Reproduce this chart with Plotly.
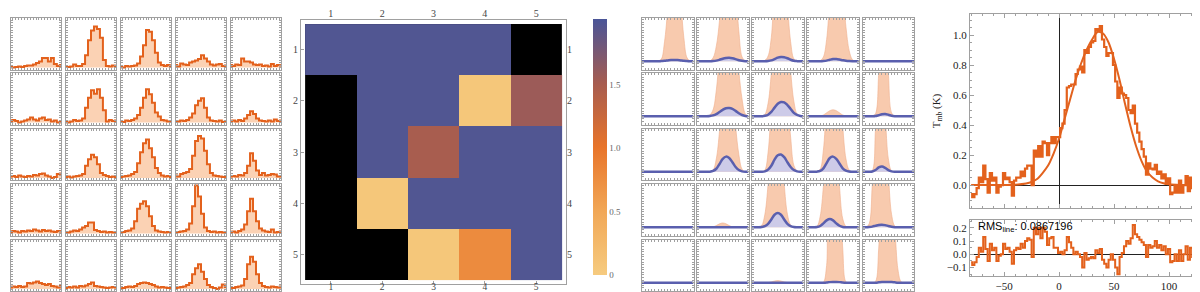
import plotly.graph_objects as go

# ---------------- DATA ----------------
# Left grid: observed line profiles (5x5 pixels), 18 channels each
CH18 = [0.5, 1.5, 2.5, 3.5, 4.5, 5.5, 6.5, 7.5, 8.5, 9.5, 10.5, 11.5, 12.5, 13.5, 14.5, 15.5, 16.5, 17.5]
OBS = [
    [[0.01,0.0,0.01,0.02,0.01,0.03,0.04,0.04,0.06,0.09,0.12,0.19,0.19,0.12,0.19,0.07,0.03,0.05],
     [0.02,0.01,0.02,0.06,0.03,0.03,0.07,0.25,0.55,0.75,0.83,0.78,0.6,0.15,0.03,0.02,0.04,0.02],
     [0.02,0.0,0.03,0.02,0.03,0.04,0.08,0.22,0.45,0.76,0.72,0.55,0.3,0.1,0.05,0.03,0.05,0.02],
     [0.05,0.02,0.08,0.06,0.05,0.1,0.12,0.14,0.17,0.25,0.18,0.12,0.06,0.04,0.06,0.07,0.03,0.04],
     [0.05,0.03,0.06,0.05,0.18,0.12,0.12,0.1,0.06,0.05,0.06,0.03,0.04,0.02,0.07,0.03,0.05,0.04]],
    [[0.02,0.05,0.03,0.0,0.02,0.04,0.06,0.1,0.06,0.04,0.08,0.1,0.05,0.06,0.02,0.04,0.0,0.01],
     [0.03,0.0,0.02,0.05,0.03,0.04,0.08,0.3,0.5,0.65,0.58,0.67,0.5,0.25,0.02,0.05,0.03,0.04],
     [0.02,0.01,0.04,0.03,0.05,0.08,0.15,0.3,0.5,0.67,0.57,0.4,0.2,0.12,0.05,0.04,0.02,0.03],
     [0.03,0.02,0.04,0.03,0.05,0.1,0.18,0.35,0.44,0.49,0.3,0.1,0.04,0.03,0.02,0.04,0.01,0.03],
     [0.03,0.04,0.02,0.05,0.03,0.08,0.15,0.23,0.17,0.08,0.04,0.03,0.02,0.04,0.02,0.06,0.03,0.04]],
    [[0.03,0.04,0.02,0.05,0.03,0.02,0.04,0.03,0.06,0.05,0.08,0.09,0.05,0.03,0.0,0.02,0.08,0.09],
     [0.02,0.03,0.01,0.03,0.04,0.05,0.08,0.25,0.38,0.47,0.42,0.28,0.1,0.06,0.04,0.02,0.03,0.01],
     [0.02,0.03,0.04,0.05,0.08,0.12,0.3,0.52,0.7,0.78,0.6,0.42,0.2,0.1,0.05,0.03,0.04,0.02],
     [0.05,0.03,0.08,0.1,0.12,0.18,0.45,0.75,0.85,0.8,0.55,0.28,0.1,0.05,0.04,0.03,0.02,0.03],
     [0.03,0.04,0.03,0.06,0.05,0.1,0.25,0.5,0.35,0.15,0.06,0.1,0.05,0.06,0.08,0.07,0.03,0.04]],
    [[0.03,0.05,0.04,0.02,0.05,0.04,0.06,0.05,0.08,0.06,0.04,0.07,0.05,0.06,0.04,0.03,0.05,0.04],
     [0.03,0.02,0.04,0.06,0.05,0.08,0.12,0.15,0.22,0.22,0.07,0.05,0.03,0.04,0.02,0.03,0.02,0.03],
     [0.02,0.03,0.05,0.06,0.1,0.25,0.5,0.6,0.65,0.55,0.35,0.15,0.06,0.04,0.03,0.02,0.03,0.02],
     [0.02,0.03,0.04,0.05,0.08,0.2,0.55,0.97,0.75,0.4,0.12,0.05,0.03,0.04,0.02,0.03,0.02,0.03],
     [0.03,0.04,0.02,0.05,0.08,0.18,0.45,0.7,0.45,0.25,0.1,0.06,0.04,0.03,0.08,0.02,0.03,0.04]],
    [[0.03,0.05,0.04,0.06,0.04,0.05,0.12,0.11,0.13,0.15,0.12,0.1,0.08,0.1,0.06,0.05,0.03,0.06],
     [0.02,0.04,0.03,0.05,0.03,0.06,0.05,0.07,0.1,0.13,0.06,0.05,0.04,0.03,0.02,0.03,0.04,0.03],
     [0.0,0.02,0.04,0.05,0.04,0.06,0.1,0.12,0.13,0.12,0.1,0.08,0.05,0.03,0.04,0.03,0.02,0.03],
     [0.02,0.03,0.04,0.05,0.08,0.12,0.3,0.42,0.5,0.35,0.2,0.08,0.04,0.02,0.0,0.03,0.09,0.04],
     [0.03,0.02,0.04,0.05,0.07,0.2,0.5,0.65,0.55,0.3,0.12,0.06,0.04,0.03,0.05,0.04,0.03,0.05]],
]

# Heatmap (row 1 at top); None = no data (black)
HM_LABELS = [1, 2, 3, 4, 5]
HM_Z = [
    [1.98, 1.98, 1.98, 1.98, None],
    [None, 1.98, 1.98, 0.06, 1.57],
    [None, 1.98, 1.50, 1.98, 1.98],
    [None, 0.06, 1.98, 1.98, 1.98],
    [None, None, 0.06, 0.78, 1.98],
]
CB_TICKVALS = [0, 0.5, 1.0, 1.5]
CB_TICKTEXT = ["0", "0.5", "1.0", "1.5"]

# Middle grid: model components (orange = wide component, blue = narrow component)
CH17 = [0, 1, 2, 3, 4, 5, 6, 7, 8, 9, 10, 11, 12, 13, 14, 15, 16]
Z17 = [0]*17
MOD_O = [
    [[0,0,0,0,0,0.01,0.05,0.45,1.2,2,2,2,1.4,0.55,0.08,0.01,0],
     [0,0,0,0,0.01,0.08,0.35,0.95,2,2,2,2,1.6,0.7,0.1,0.01,0],
     [0,0,0,0,0.02,0.12,0.55,1.6,2,2,2,1.3,0.45,0.06,0.01,0,0],
     [0,0,0,0,0.015,0.1,0.5,1.4,2,2,2,1.6,0.8,0.25,0.04,0,0],
     Z17],
    [Z17,
     [0,0,0,0,0.03,0.15,0.6,1.4,2,2,2,2,2,1.05,0.4,0.06,0],
     [0,0,0,0,0.04,0.3,1.0,2,2,2,2,2,1.05,0.35,0.05,0,0],
     [0,0,0,0,0.005,0.03,0.08,0.13,0.15,0.13,0.08,0.03,0.008,0,0,0,0],
     [0,0,0,0,0.06,1.0,2,2,1.0,0.08,0,0,0,0,0,0,0]],
    [Z17,
     [0,0,0,0,0.005,0.04,0.3,0.95,2,2,2,2,1.05,0.4,0.06,0,0],
     [0,0,0,0,0.04,0.45,1.4,2,2,2,2,1.6,0.8,0.15,0.02,0,0],
     [0,0,0,0.01,0.06,0.5,1.5,2,2,2,2,1.05,0.3,0.04,0,0,0],
     [0,0,0,0.03,1.0,2,2,1.3,0.3,0.02,0,0,0,0,0,0,0]],
    [Z17,
     [0,0,0,0,0,0.01,0.04,0.08,0.1,0.08,0.04,0.01,0,0,0,0,0],
     [0,0,0.005,0.04,0.3,1.0,2,2,2,2,1.0,0.3,0.05,0,0,0,0],
     [0,0,0,0.02,0.25,0.95,2,2,2,2,0.95,0.2,0.02,0,0,0,0],
     [0,0.005,0.08,1.0,2,2,2,2,1.2,0.3,0.03,0,0,0,0,0,0]],
    [Z17,
     Z17,
     [0,0,0,0,0,0.005,0.02,0.04,0.05,0.04,0.02,0.005,0,0,0,0,0],
     [0,0,0,0,0,0.01,0.4,2,2,2,2,0.8,0.02,0,0,0,0],
     [0,0,0,0,0.03,0.8,2,2,2,2,1.3,0.3,0.02,0,0,0,0]],
]
MOD_B = [
    [[0,0,0,0,0,0,0.005,0.01,0.02,0.03,0.03,0.03,0.02,0.01,0.005,0,0],
     [0,0,0,0,0,0.005,0.015,0.035,0.06,0.075,0.08,0.07,0.05,0.025,0.01,0.003,0],
     [0,0,0,0,0,0.005,0.02,0.05,0.085,0.1,0.095,0.07,0.035,0.012,0.003,0,0],
     [0,0,0,0,0,0.005,0.015,0.035,0.05,0.05,0.04,0.025,0.012,0.004,0,0,0],
     Z17],
    [Z17,
     [0,0,0,0,0.005,0.02,0.05,0.1,0.15,0.185,0.19,0.17,0.125,0.07,0.03,0.008,0],
     [0,0,0,0,0.01,0.035,0.1,0.2,0.29,0.33,0.32,0.26,0.17,0.08,0.03,0.008,0],
     Z17,
     [0,0,0,0,0.005,0.025,0.045,0.05,0.035,0.012,0.002,0,0,0,0,0,0]],
    [Z17,
     [0,0,0,0,0.003,0.02,0.07,0.18,0.3,0.35,0.32,0.22,0.11,0.04,0.01,0,0],
     [0,0,0,0,0.01,0.05,0.14,0.28,0.38,0.4,0.34,0.22,0.11,0.04,0.01,0,0],
     [0,0,0,0.003,0.02,0.08,0.2,0.32,0.35,0.3,0.19,0.08,0.025,0.005,0,0,0],
     [0,0,0,0.005,0.04,0.1,0.12,0.09,0.04,0.01,0,0,0,0,0,0,0]],
    [Z17,
     Z17,
     [0,0,0,0.005,0.025,0.08,0.18,0.29,0.33,0.29,0.18,0.08,0.025,0.005,0,0,0],
     [0,0,0,0.005,0.03,0.09,0.16,0.19,0.16,0.09,0.035,0.008,0,0,0,0,0],
     [0,0,0.005,0.015,0.035,0.055,0.06,0.05,0.03,0.012,0.003,0,0,0,0,0,0]],
    [Z17,
     Z17,
     Z17,
     [0,0,0,0,0,0,0.005,0.015,0.02,0.02,0.015,0.005,0,0,0,0,0],
     [0,0,0,0,0.003,0.01,0.018,0.02,0.02,0.018,0.01,0.003,0,0,0,0,0]],
]

# Right: averaged spectrum, Gaussian fit and residual
VEL = [-80,-78,-76,-74,-72,-70,-68,-66,-64,-62,-60,-58,-56,-54,-52,-50,-48,-46,-44,-42,
       -40,-38,-36,-34,-32,-30,-28,-26,-24,-22,-20,-18,-16,-14,-12,-10,-8,-6,-4,-2,
       0,2,4,6,8,10,12,14,16,18,20,22,24,26,28,30,32,34,36,38,
       40,42,44,46,48,50,52,54,56,58,60,62,64,66,68,70,72,74,76,78,
       80,82,84,86,88,90,92,94,96,98,100,102,104,106,108,110,112,114,116,118,
       120,122,124,126,128,130]
TMB = [-0.06,-0.08,-0.06,-0.02,0.05,0.02,0.13,0.04,-0.05,0.08,0.03,0.05,-0.05,-0.01,0.00,0.08,0.04,0.05,0.02,-0.07,
       0.03,0.05,0.05,0.09,0.06,0.11,0.13,0.13,0.00,0.23,0.19,0.26,0.19,0.29,0.28,0.20,0.28,0.32,0.28,0.32,
       0.32,0.38,0.41,0.50,0.65,0.66,0.67,0.67,0.74,0.77,0.79,0.75,0.90,0.88,0.92,0.95,0.96,1.04,1.03,1.06,
       0.97,0.92,0.86,0.88,0.88,0.80,0.69,0.58,0.65,0.61,0.60,0.58,0.50,0.48,0.53,0.41,0.35,0.29,0.24,0.19,
       0.07,0.145,0.11,0.105,0.135,0.075,0.09,0.045,0.072,0.008,0.045,-0.06,-0.05,0.00,-0.05,0.03,-0.05,0.00,0.06,-0.04,
       0.05,-0.02,0.04,0.00,-0.06,0.00]
RESID = [-0.06,-0.08,-0.06,-0.02,0.05,0.02,0.13,0.04,-0.05,0.08,0.03,0.05,-0.05,-0.01,0.00,0.08,0.04,0.05,0.02,-0.07,
         0.03,0.05,0.04,0.08,0.05,0.10,0.12,0.11,-0.02,0.20,0.15,0.20,0.12,0.20,0.17,0.07,0.12,0.13,0.05,0.05,
         0.01,0.02,0.00,0.03,0.13,0.09,0.05,0.00,0.02,0.00,-0.02,-0.10,0.01,-0.04,-0.03,-0.02,-0.03,0.03,0.01,0.04,
         -0.04,-0.07,-0.10,-0.04,0.00,-0.04,-0.10,-0.15,-0.02,0.01,0.06,0.10,0.08,0.12,0.22,0.15,0.13,0.11,0.09,0.07,
         -0.02,0.07,0.05,0.06,0.10,0.05,0.07,0.03,0.06,0.00,0.04,-0.06,-0.05,0.00,-0.05,0.03,-0.05,0.00,0.06,-0.04,
         0.05,-0.02,0.04,0.00,-0.06,0.00]
FIT_V = [-80,-50,-40,-30,-25,-20,-15,-10,-5,0,5,10,15,20,25,30,35,40,45,50,55,60,65,70,75,80,85,90,95,100,110,130]
FIT_T = [0,0,0.002,0.01,0.02,0.04,0.08,0.13,0.21,0.31,0.44,0.57,0.7,0.81,0.9,0.97,1.02,1.01,0.95,0.84,0.7,0.54,0.39,0.26,0.16,0.09,0.05,0.025,0.012,0.005,0.001,0]
RMS_TEXT = "RMS<sub>line</sub>: 0.0867196"

# ---------------- LAYOUT HELPERS ----------------
W, H = 1200, 292
def dx(a, b): return [a / W, b / W]
def dy(top, bot): return [1 - bot / H, 1 - top / H]

ROWS = [(10, 61.5), (65, 116.5), (120.5, 172), (176, 227.5), (231.5, 283)]
LCOLS = [(2.7, 53.3), (57.7, 108.3), (112.7, 163.3), (167.7, 218.3), (222.7, 273.3)]
MCOLS = [(634, 685.5), (689, 740.5), (744, 795.5), (799.3, 850.8), (854.7, 906)]

SERIF = "Liberation Serif"
ORANGE = "#e3611c"
FRAME = "#a0a0a0"

fig = go.Figure()
layout = dict(width=W, height=H, margin=dict(l=0, r=0, t=0, b=0),
              paper_bgcolor="white", plot_bgcolor="white", showlegend=False)
counter = [0]

def add_axes(xd, yd, xkw, ykw):
    counter[0] += 1
    n = counter[0]
    s = "" if n == 1 else str(n)
    base = dict(showgrid=False, zeroline=False, showline=True, linecolor=FRAME,
                linewidth=1, mirror="ticks", ticks="inside", tickcolor=FRAME)
    xa = dict(base); xa.update(domain=xd, anchor="y" + s); xa.update(xkw)
    ya = dict(base); ya.update(domain=yd, anchor="x" + s); ya.update(ykw)
    layout["xaxis" + s] = xa
    layout["yaxis" + s] = ya
    return "x" + s, "y" + s, n

small_x = dict(showticklabels=False, ticklen=2, tickwidth=0.8, dtick=1)

# Left grid
for r in range(5):
    for c in range(5):
        xr, yr, _ = add_axes(dx(*LCOLS[c]), dy(*ROWS[r]),
                             dict(small_x, range=[0.5, 17.5]),
                             dict(showticklabels=False, ticklen=2, tickwidth=0.8, dtick=0.05,
                                  range=[-0.04, 1.0]))
        fig.add_trace(go.Scatter(x=CH18, y=OBS[r][c], xaxis=xr, yaxis=yr, mode="lines",
                                 line=dict(color=ORANGE, width=2, shape="hvh"),
                                 fill="tozeroy", fillcolor="#fbd2b4", hoverinfo="skip"))

# Heatmap
hm_font = dict(family=SERIF, size=10, color="#444")
HM_TOP, HM_BOT = 12, 276
xr, yr, hn = add_axes(dx(293, 558), dy(HM_TOP, HM_BOT),
                      dict(range=[0.42, 5.58], tickvals=HM_LABELS, ticklen=3, mirror=True,
                           tickfont=dict(family=SERIF, size=9.5, color="#444"), ticklabelstandoff=-6),
                      dict(range=[5.58, 0.42], tickvals=HM_LABELS, ticklen=3, mirror=True,
                           tickfont=hm_font))
layout["shapes"] = [dict(type="rect", xref=xr, yref=yr, x0=0.5, x1=5.5, y0=0.5, y1=5.5,
                         fillcolor="black", line=dict(width=0), layer="below")]
fig.add_trace(go.Heatmap(z=HM_Z, x=HM_LABELS, y=HM_LABELS, xaxis=xr, yaxis=yr, zmin=0, zmax=2.02,
                         colorscale=[[0, "#f6cb7f"], [0.25, "#f1a756"], [0.5, "#e8742a"],
                                     [0.75, "#a65c50"], [1, "#4a5598"]],
                         hoverinfo="skip",
                         colorbar=dict(x=585 / W, xanchor="left", y=1 - 139 / H, yanchor="middle",
                                       len=256 / H, lenmode="fraction", thickness=14, outlinewidth=0,
                                       xpad=0, ypad=0,
                                       tickvals=CB_TICKVALS, ticktext=CB_TICKTEXT, ticks="",
                                       tickfont=dict(family=SERIF, size=9, color="#666"))))
# top / right label axes for heatmap
s = str(hn)
layout["xaxis100"] = dict(overlaying="x" + s, side="top", anchor="y" + s, range=[0.42, 5.58],
                          tickvals=HM_LABELS, showgrid=False, zeroline=False, ticks="",
                          tickfont=hm_font)
layout["yaxis100"] = dict(overlaying="y" + s, side="right", anchor="x" + s, range=[5.58, 0.42],
                          tickvals=HM_LABELS, showgrid=False, zeroline=False, ticks="",
                          tickfont=hm_font)
fig.add_trace(go.Scatter(x=[None], y=[None], xaxis="x100", yaxis="y" + s, hoverinfo="skip"))
fig.add_trace(go.Scatter(x=[None], y=[None], xaxis="x" + s, yaxis="y100", hoverinfo="skip"))

# Middle grid
for r in range(5):
    for c in range(5):
        xr2, yr2, _ = add_axes(dx(*MCOLS[c]), dy(*ROWS[r]),
                               dict(small_x, range=[0, 16]),
                               dict(showticklabels=False, ticklen=2, tickwidth=0.8, dtick=0.06,
                                    range=[-0.19, 1.0]))
        fig.add_trace(go.Scatter(x=CH17, y=MOD_O[r][c], xaxis=xr2, yaxis=yr2, mode="lines",
                                 line=dict(color="rgba(240,175,140,0.6)", width=1, shape="spline"),
                                 fill="tozeroy", fillcolor="rgba(247,196,165,0.9)", hoverinfo="skip"))
        fig.add_trace(go.Scatter(x=CH17, y=MOD_B[r][c], xaxis=xr2, yaxis=yr2, mode="lines",
                                 line=dict(color="#5a5fae", width=2.5, shape="spline"),
                                 fill="tozeroy", fillcolor="rgba(200,203,238,0.9)", hoverinfo="skip"))

# Right: main spectrum
tick_font = dict(family=SERIF, size=11, color="#222")
xr3, yr3, _ = add_axes(dx(962, 1198), dy(6, 200),
                       dict(range=[-81, 133.6], tickvals=[-50, 0, 50, 100], showticklabels=False,
                            ticklen=4, zeroline=True, zerolinecolor="#222", zerolinewidth=1,
                            minor=dict(dtick=10, ticks="inside", ticklen=2, tickcolor=FRAME)),
                       dict(range=[-0.153, 1.14], dtick=0.2, tickformat=".1f", ticklen=4,
                            tickfont=tick_font, zeroline=True, zerolinecolor="#222", zerolinewidth=1,
                            minor=dict(dtick=0.05, ticks="inside", ticklen=2, tickcolor=FRAME),
                            title=dict(text="T<sub>mb</sub> (K)", font=dict(family=SERIF, size=11, color="#222"),
                                       standoff=10)))
fig.add_trace(go.Scatter(x=VEL, y=TMB, xaxis=xr3, yaxis=yr3, mode="lines",
                         line=dict(color=ORANGE, width=2.2, shape="hvh"), hoverinfo="skip"))
fig.add_trace(go.Scatter(x=FIT_V, y=FIT_T, xaxis=xr3, yaxis=yr3, mode="lines",
                         line=dict(color="#e2621e", width=2, shape="spline", smoothing=0.8), hoverinfo="skip"))

# Residual panel
xr4, yr4, _ = add_axes(dx(962, 1198), dy(212, 268),
                       dict(range=[-81, 133.6], tickvals=[-50, 0, 50, 100], ticklen=4, tickfont=tick_font,
                            minor=dict(dtick=10, ticks="inside", ticklen=2, tickcolor=FRAME)),
                       dict(range=[-0.163, 0.258], tickvals=[-0.1, 0.0, 0.1, 0.2], tickformat=".1f",
                            ticklen=4, tickfont=tick_font, zeroline=True, zerolinecolor="#222",
                            zerolinewidth=1,
                            minor=dict(dtick=0.05, ticks="inside", ticklen=2, tickcolor=FRAME)))
fig.add_trace(go.Scatter(x=VEL, y=RESID, xaxis=xr4, yaxis=yr4, mode="lines",
                         line=dict(color=ORANGE, width=2, shape="hvh"), hoverinfo="skip"))

layout["annotations"] = [dict(text=RMS_TEXT, xref="paper", yref="paper", x=968 / W, y=1 - 219 / H,
                              xanchor="left", yanchor="middle", showarrow=False,
                              font=dict(family="Liberation Sans", size=11, color="black"))]

fig.update_layout(**layout)
fig.write_html("out.html")
